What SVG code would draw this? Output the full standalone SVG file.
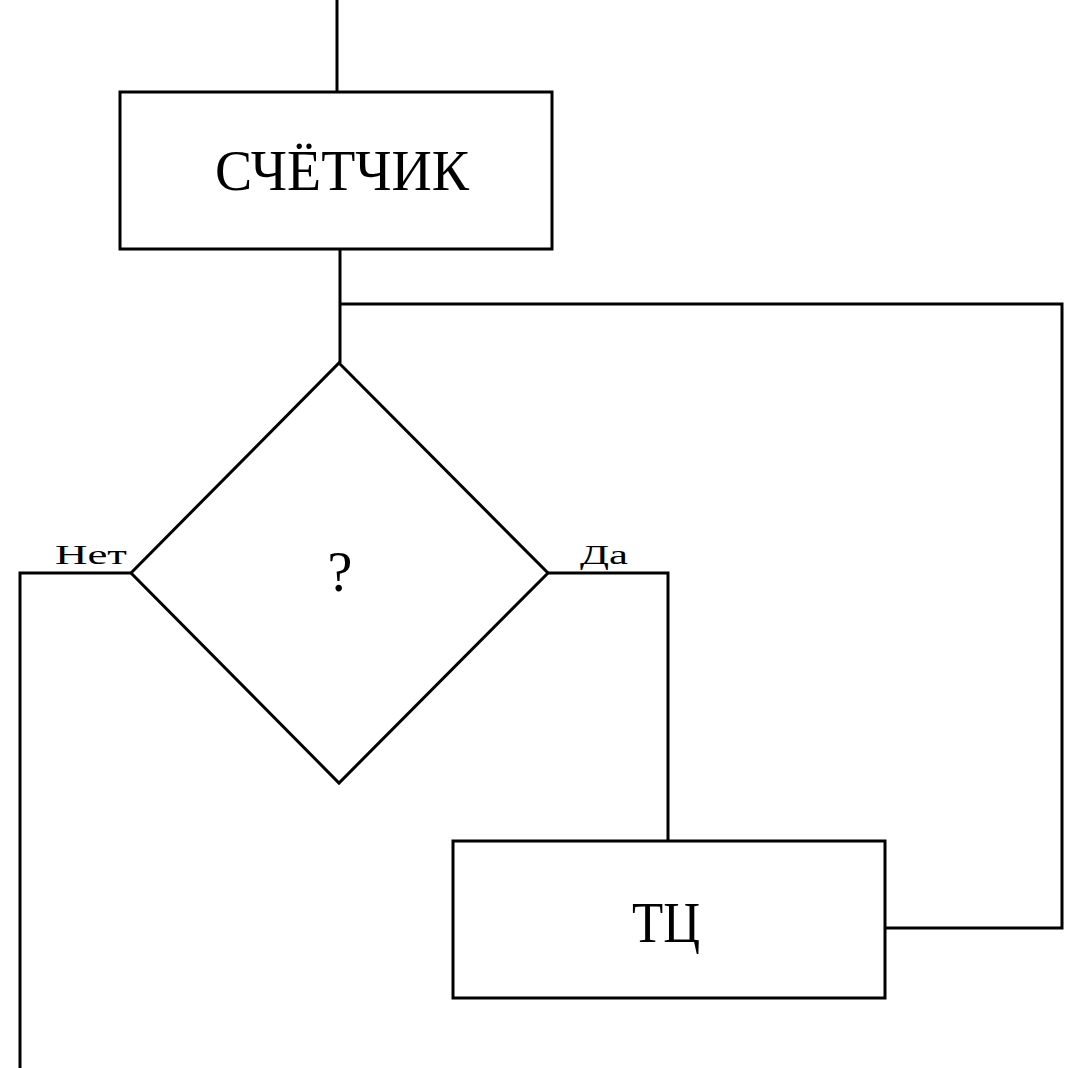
<svg xmlns="http://www.w3.org/2000/svg" width="1071" height="1068" viewBox="0 0 1071 1068">
<style>
.shape{fill:#fff;stroke:#000;stroke-width:3}
.conn{fill:none;stroke:#000;stroke-width:3}
.big{font-family:"Liberation Serif","DejaVu Serif",serif;font-size:56px;fill:#000}
.small{font-family:"Liberation Serif","DejaVu Serif",serif;font-size:28px;fill:#000}
</style>
<rect width="1071" height="1068" fill="#fff"/>
<g id="connectors">
<line class="conn" x1="337" y1="0" x2="337" y2="92"/>
<polyline class="conn" points="340,249 340,363"/>
<polyline class="conn" points="340,304 1062,304 1062,928 885,928"/>
<polyline class="conn" points="131,573 20,573 20,1068"/>
<polyline class="conn" points="548,573 668,573 668,841"/>
</g>
<g id="counter">
<rect class="shape" x="120" y="92" width="432" height="157"/>
<text class="big" x="342" y="190" text-anchor="middle" textLength="254" lengthAdjust="spacingAndGlyphs">СЧЁТЧИК</text>
</g>
<g id="decision">
<polygon class="shape" points="339,363 548,573 339,783 131,573"/>
<text class="big" x="340" y="591" text-anchor="middle" font-size="32">?</text>
</g>
<g id="tc">
<rect class="shape" x="453" y="841" width="432" height="157"/>
<text class="big" x="666" y="942" text-anchor="middle" textLength="68" lengthAdjust="spacingAndGlyphs">ТЦ</text>
</g>
<g id="labels">
<text class="small" x="91" y="564" text-anchor="middle" textLength="72" lengthAdjust="spacingAndGlyphs">Нет</text>
<text class="small" x="604" y="564" text-anchor="middle" textLength="48" lengthAdjust="spacingAndGlyphs">Да</text>
</g>
</svg>
